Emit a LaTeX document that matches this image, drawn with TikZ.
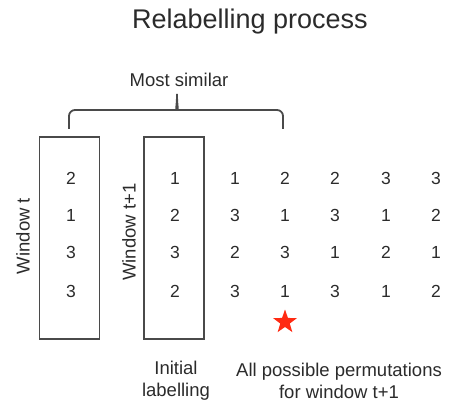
\documentclass[tikz,border=0pt]{standalone}
\usepackage{fontspec}
\setmainfont{Liberation Sans}
\usetikzlibrary{shapes.geometric}
\definecolor{ink}{HTML}{2B2B2B}
\definecolor{linec}{HTML}{4A4A4A}
\definecolor{starred}{HTML}{FF2A12}
\begin{document}
\begin{tikzpicture}[x=1pt,y=-1pt,
  txt/.style={text=ink,font=\fontsize{18.5}{22}\selectfont,inner sep=0pt},
  dig/.style={text=ink,font=\fontsize{17.5}{20}\selectfont,inner sep=0pt},
  winbox/.style={draw=linec,line width=1.4pt,minimum width=60pt,minimum height=202pt,inner sep=0pt},
  bracec/.style={draw=linec,line width=1.8pt,rounded corners=6pt}]
\useasboundingbox (0,0) rectangle (462,411);
\node[txt,font=\fontsize{27}{30}\selectfont] (title) at (250,22) {Relabelling process};
\node[txt] (similar) at (179,80) {Most similar};
% brace
\coordinate (bl) at (69,129);
\coordinate (br) at (283,129);
\coordinate (tip) at (177,94);
\draw[bracec] (bl) |- (171,110) .. controls (175,110) and (177,108) .. (tip);
\draw[bracec] (br) |- (183,110) .. controls (179,110) and (177,108) .. (tip);
% boxes
\node[winbox] (boxA) at (69.5,238) {};
\node[winbox] (boxB) at (174,238) {};
\node[txt,rotate=90] (labA) at (23,236) {Window t};
\node[txt,rotate=90] (labB) at (129,232) {Window t+1};
% column A
\node[dig] (a1) at (71,178) {2};
\node[dig] (a2) at (71,215) {1};
\node[dig] (a3) at (71,252) {3};
\node[dig] (a4) at (71,291) {3};
% column B
\node[dig] (b1) at (175,178) {1};
\node[dig] (b2) at (175,215) {2};
\node[dig] (b3) at (175,252) {3};
\node[dig] (b4) at (175,291) {2};
% permutations
\foreach \c/\x/\r/\s/\t/\u in {1/235/1/3/2/3, 2/285/2/1/3/1, 3/335/2/3/1/3, 4/386/3/1/2/1, 5/436/3/2/1/2}{
  \node[dig] (p\c1) at (\x,178) {\r};
  \node[dig] (p\c2) at (\x,215) {\s};
  \node[dig] (p\c3) at (\x,252) {\t};
  \node[dig] (p\c4) at (\x,291) {\u};
}
\node[star,star points=5,star point ratio=2.5,fill=starred,minimum size=25pt,inner sep=0pt] (star) at (285,322) {};
\node[txt,align=center] (initlab) at (176,381) {Initial\\labelling};
\node[txt,align=center] (permlab) at (339,381) {All possible permutations\\for window t+1};
\end{tikzpicture}
\end{document}
